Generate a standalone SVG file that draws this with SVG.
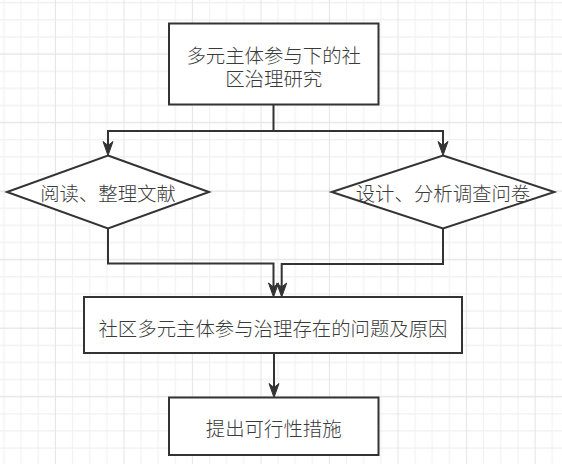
<svg xmlns="http://www.w3.org/2000/svg" width="562" height="464" viewBox="0 0 562 464">
<style>
.node{fill:#ffffff;stroke:#333333;stroke-width:2}
.lbl{font-family:"Noto Sans CJK SC","Noto Sans",sans-serif;font-size:19.4px;font-weight:300;fill:#3a3a3a;text-anchor:middle;dominant-baseline:central}
.edge{fill:none;stroke:#333333;stroke-width:2}
</style>
<defs>
<pattern id="grid" patternUnits="userSpaceOnUse" x="-4.565" y="-5.865" width="68.52" height="68.52">
<path d="M8.565 0V68.52M25.695 0V68.52M42.825 0V68.52M0 8.565H68.52M0 25.695H68.52M0 42.825H68.52" stroke="#f0f0f0" stroke-width="1" fill="none"/>
<path d="M59.955 0V68.52M0 59.955H68.52" stroke="#e3e3e3" stroke-width="1" fill="none"/>
</pattern>
<marker id="arr" markerUnits="userSpaceOnUse" markerWidth="20" markerHeight="20" refX="0" refY="0" orient="auto" overflow="visible">
<path d="M8,0 L-6,-5 L-2,0 L-6,5 Z" fill="#333333" stroke="#333333" stroke-width="1"/>
</marker>
</defs>
<rect width="562" height="464" fill="#ffffff"/>
<rect width="562" height="464" fill="url(#grid)"/>
<g id="connectors">
<path class="edge" d="M273.5 104.5V131H108V147.5" marker-end="url(#arr)"/>
<path class="edge" d="M273.5 131H443V147.5" marker-end="url(#arr)"/>
<path class="edge" d="M108 228.5V263.5H273.5V289" marker-end="url(#arr)"/>
<path class="edge" d="M443 228.5V264H281.7V289" marker-end="url(#arr)"/>
<path class="edge" d="M274 353V389.5" marker-end="url(#arr)"/>
</g>
<g id="n1">
<rect class="node" x="169" y="23.5" width="209.5" height="81"/>
<text class="lbl"><tspan x="273.7" y="54">多元主体参与下的社</tspan><tspan x="273.7" y="76.7">区治理研究</tspan></text>
</g>
<g id="n2">
<polygon class="node" points="108,155.5 209,192 108,228.5 7,192"/>
<text class="lbl" x="108" y="192">阅读、整理文献</text>
</g>
<g id="n3">
<polygon class="node" points="443,155.5 554.3,192 443,228.5 331.7,192"/>
<text class="lbl" x="443" y="192">设计、分析调查问卷</text>
</g>
<g id="n4">
<rect class="node" x="84" y="297" width="378" height="56"/>
<text class="lbl" x="273" y="327">社区多元主体参与治理存在的问题及原因</text>
</g>
<g id="n5">
<rect class="node" x="169" y="397.5" width="209.5" height="57.5"/>
<text class="lbl" x="273.7" y="427">提出可行性措施</text>
</g>
</svg>
